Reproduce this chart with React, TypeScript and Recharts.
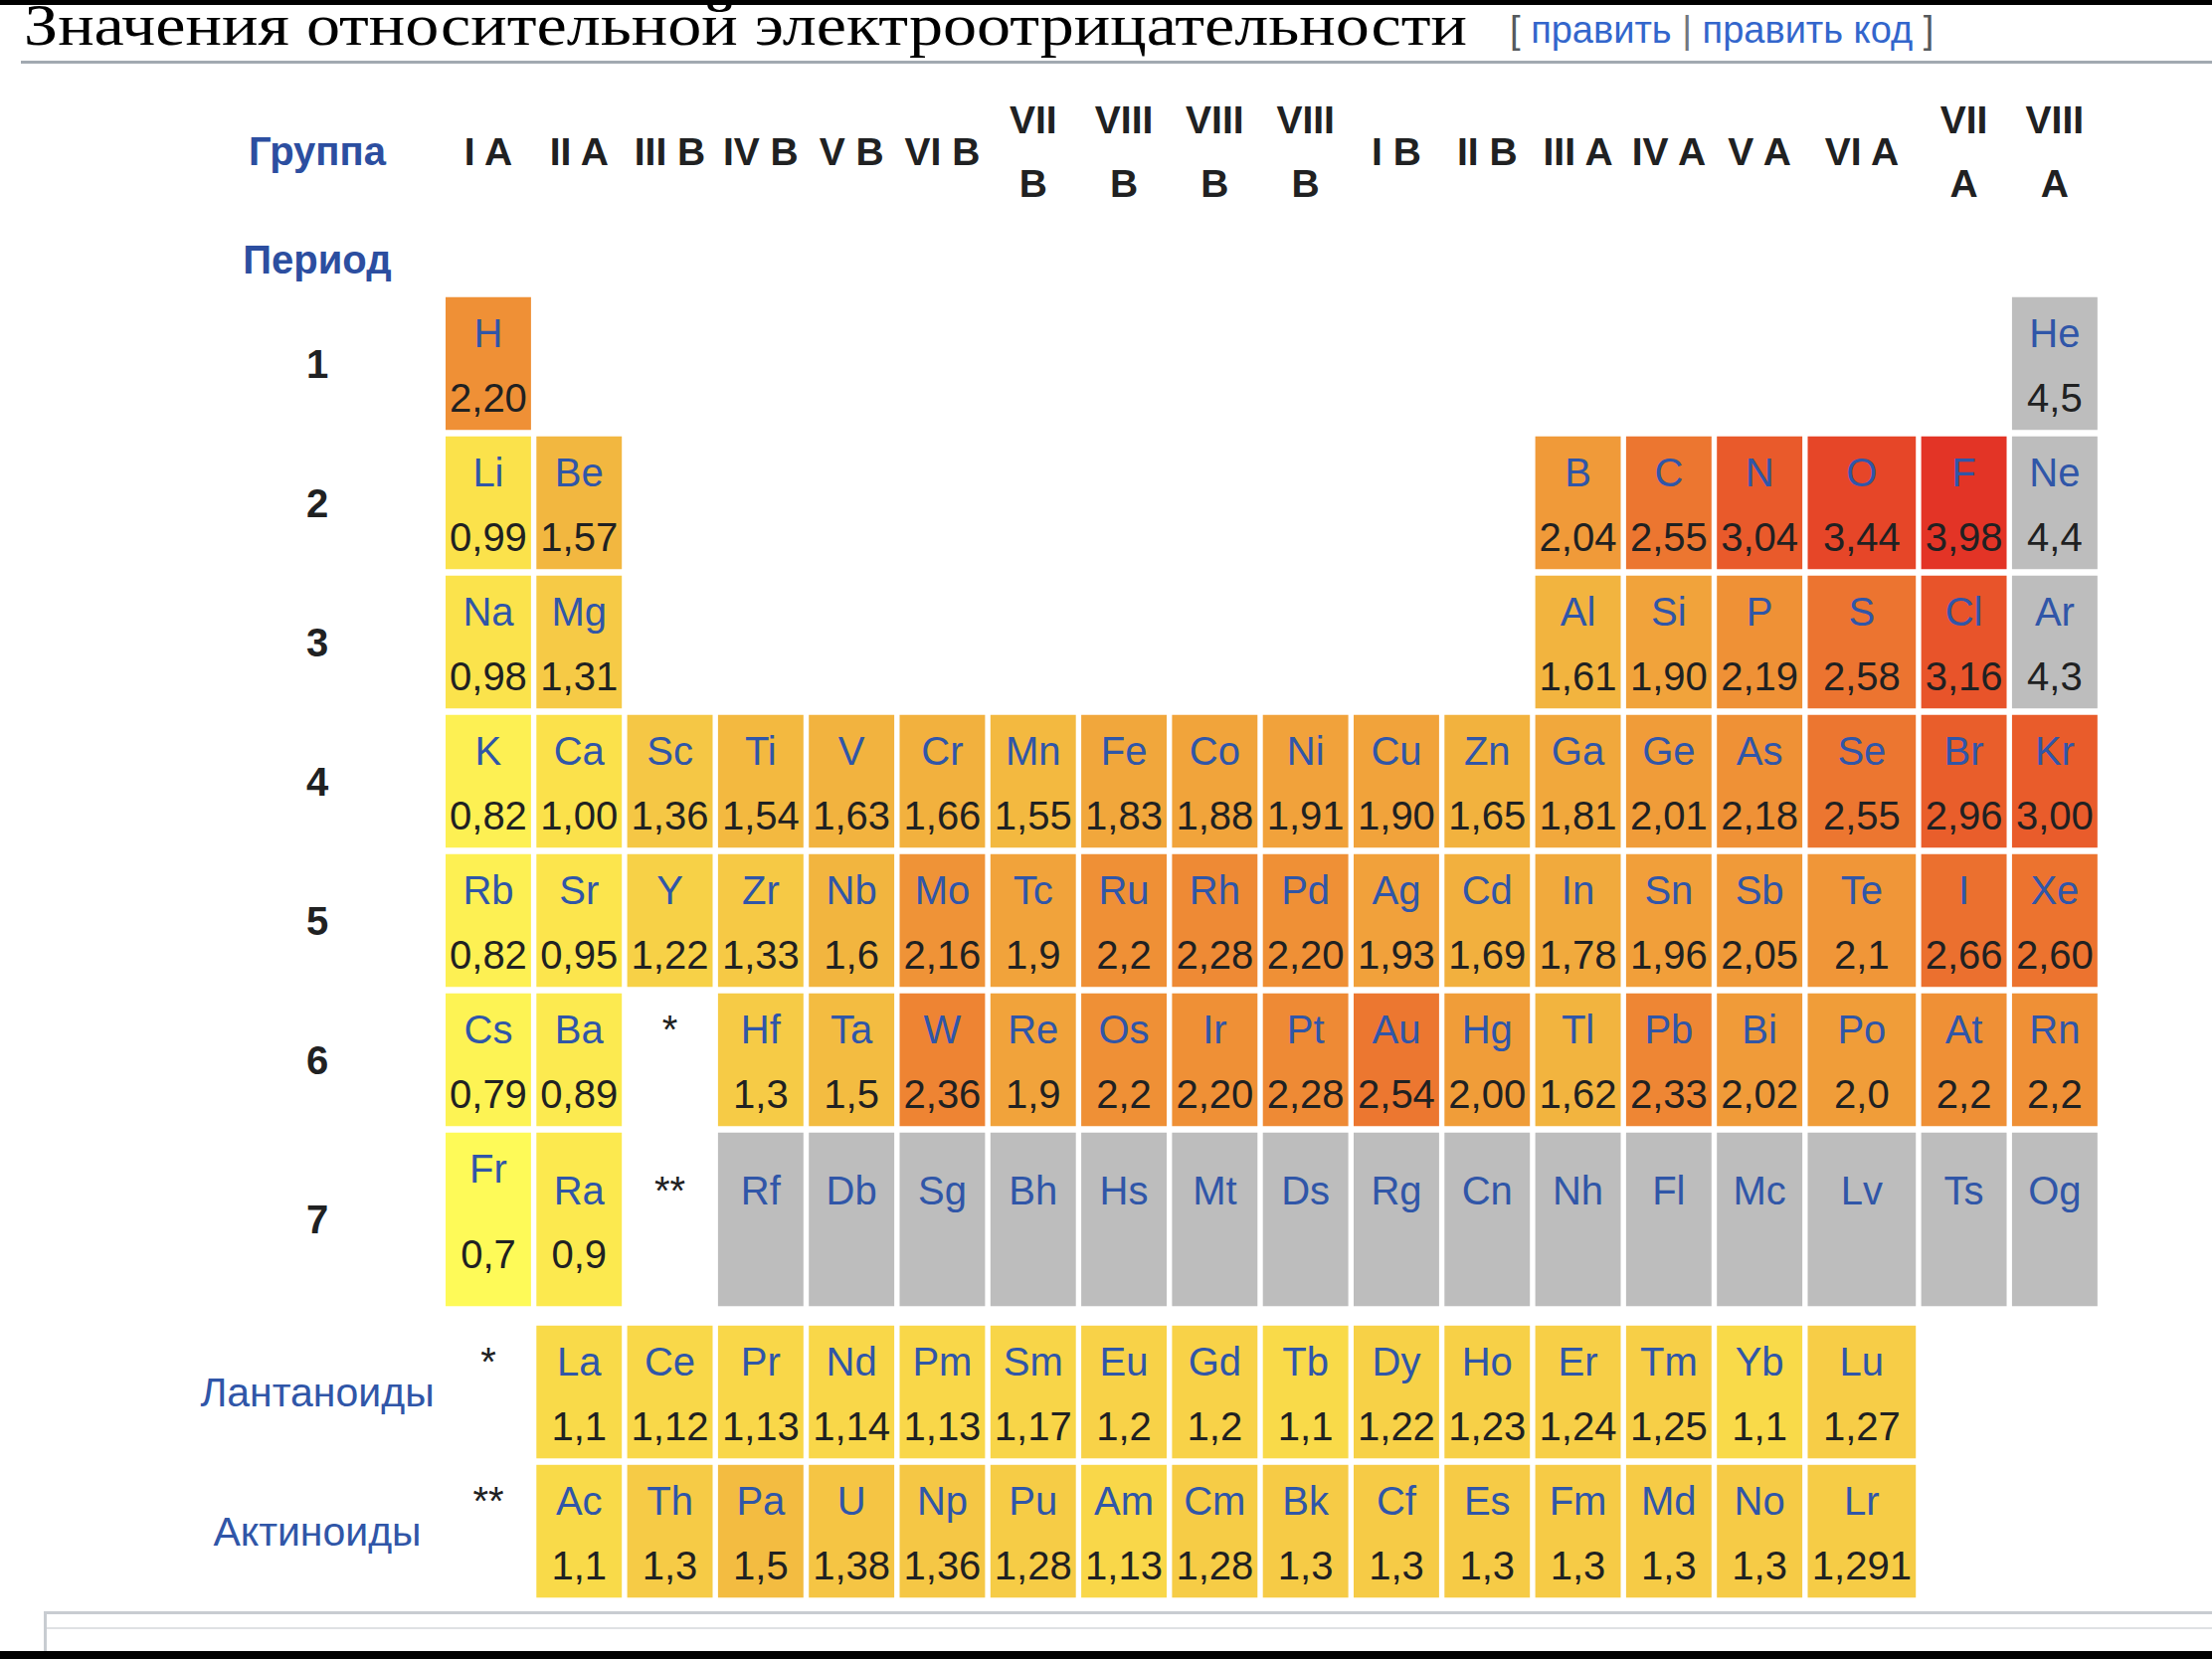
import React from 'react';
import { ScatterChart, Scatter, XAxis, YAxis } from 'recharts';

// group headers (columns) and period numbers (rows)
const groupLabels = ['I A', 'II A', 'III B', 'IV B', 'V B', 'VI B', 'VII B', 'VIII B', 'VIII B', 'VIII B', 'I B', 'II B', 'III A', 'IV A', 'V A', 'VI A', 'VII A', 'VIII A'];
const periodLabels = ['1', '2', '3', '4', '5', '6', '7'];

// main table, one entry per group; '' = empty, '*' / '**' = footnote marks
const mainSymbols = [
  ['H', '', '', '', '', '', '', '', '', '', '', '', '', '', '', '', '', 'He'],
  ['Li', 'Be', '', '', '', '', '', '', '', '', '', '', 'B', 'C', 'N', 'O', 'F', 'Ne'],
  ['Na', 'Mg', '', '', '', '', '', '', '', '', '', '', 'Al', 'Si', 'P', 'S', 'Cl', 'Ar'],
  ['K', 'Ca', 'Sc', 'Ti', 'V', 'Cr', 'Mn', 'Fe', 'Co', 'Ni', 'Cu', 'Zn', 'Ga', 'Ge', 'As', 'Se', 'Br', 'Kr'],
  ['Rb', 'Sr', 'Y', 'Zr', 'Nb', 'Mo', 'Tc', 'Ru', 'Rh', 'Pd', 'Ag', 'Cd', 'In', 'Sn', 'Sb', 'Te', 'I', 'Xe'],
  ['Cs', 'Ba', '*', 'Hf', 'Ta', 'W', 'Re', 'Os', 'Ir', 'Pt', 'Au', 'Hg', 'Tl', 'Pb', 'Bi', 'Po', 'At', 'Rn'],
  ['Fr', 'Ra', '**', 'Rf', 'Db', 'Sg', 'Bh', 'Hs', 'Mt', 'Ds', 'Rg', 'Cn', 'Nh', 'Fl', 'Mc', 'Lv', 'Ts', 'Og'],
];
const mainValues = [
  ['2,20', '', '', '', '', '', '', '', '', '', '', '', '', '', '', '', '', '4,5'],
  ['0,99', '1,57', '', '', '', '', '', '', '', '', '', '', '2,04', '2,55', '3,04', '3,44', '3,98', '4,4'],
  ['0,98', '1,31', '', '', '', '', '', '', '', '', '', '', '1,61', '1,90', '2,19', '2,58', '3,16', '4,3'],
  ['0,82', '1,00', '1,36', '1,54', '1,63', '1,66', '1,55', '1,83', '1,88', '1,91', '1,90', '1,65', '1,81', '2,01', '2,18', '2,55', '2,96', '3,00'],
  ['0,82', '0,95', '1,22', '1,33', '1,6', '2,16', '1,9', '2,2', '2,28', '2,20', '1,93', '1,69', '1,78', '1,96', '2,05', '2,1', '2,66', '2,60'],
  ['0,79', '0,89', '', '1,3', '1,5', '2,36', '1,9', '2,2', '2,20', '2,28', '2,54', '2,00', '1,62', '2,33', '2,02', '2,0', '2,2', '2,2'],
  ['0,7', '0,9', '', '', '', '', '', '', '', '', '', '', '', '', '', '', '', ''],
];

// f-block rows, starting at group II A
const lanthSymbols = ['La', 'Ce', 'Pr', 'Nd', 'Pm', 'Sm', 'Eu', 'Gd', 'Tb', 'Dy', 'Ho', 'Er', 'Tm', 'Yb', 'Lu'];
const lanthValues = ['1,1', '1,12', '1,13', '1,14', '1,13', '1,17', '1,2', '1,2', '1,1', '1,22', '1,23', '1,24', '1,25', '1,1', '1,27'];
const actSymbols = ['Ac', 'Th', 'Pa', 'U', 'Np', 'Pu', 'Am', 'Cm', 'Bk', 'Cf', 'Es', 'Fm', 'Md', 'No', 'Lr'];
const actValues = ['1,1', '1,3', '1,5', '1,38', '1,36', '1,28', '1,13', '1,28', '1,3', '1,3', '1,3', '1,3', '1,3', '1,3', '1,291'];
const seriesLabels = ['Лантаноиды', 'Актиноиды'];

// ---- layout (px per unit, and where unit 0.5 sits) ----
const W = 2224;
const H = 1668;
const X0 = 445.3;
const XS = 91.3;
const Y0 = 295.5;
const YS = 140;
const GX = 5.4;
const GY = 6.5;
const X_DOMAIN: [number, number] = [0.5 - X0 / XS, 0.5 + (W - X0) / XS];
const Y_DOMAIN: [number, number] = [0.5 - Y0 / YS, 0.5 + (H - Y0) / YS];

const ROW7_SPAN = 1.293;
const colSpan = (g: number) => (g === 16 ? 1.25 : 1);
const xUnit = (g: number) => (g <= 15 ? g : g === 16 ? 16.125 : g + 0.25);
const rowSpan = (r: number) => (r === 7 ? ROW7_SPAN : 1);
const yUnit = (r: number) => {
  if (r <= 6) return r;
  if (r === 7) return 6.5 + ROW7_SPAN / 2;
  return 6.5 + ROW7_SPAN + 0.093 + 0.5 + (r - 8);
};
const LABEL_X = 0.5 + (319 - X0) / XS;
const HEADER_Y = 0.5 + (152 - Y0) / YS;
const PERIOD_HEAD_Y = 0.5 + (261 - Y0) / YS;

const SANS = '"Liberation Sans", Arial, Helvetica, sans-serif';
const LINK = '#3056a8';
const TEXT = '#202122';

const stops: [number, number[]][] = [
  [0.7, [254, 250, 88]],
  [1.0, [251, 225, 75]],
  [1.3, [246, 203, 70]],
  [1.6, [242, 181, 63]],
  [1.9, [241, 163, 59]],
  [2.2, [239, 144, 54]],
  [2.55, [236, 118, 48]],
  [3.0, [233, 92, 43]],
  [3.44, [230, 70, 40]],
  [3.98, [227, 52, 38]],
];

function fillFor(value: string) {
  if (!value) return '#bdbdbd';
  const v = parseFloat(value.replace(',', '.'));
  if (v > 4.1) return '#bdbdbd';
  let i = 0;
  while (i < stops.length - 2 && v > stops[i + 1][0]) i++;
  const [a, ca] = stops[i];
  const [b, cb] = stops[i + 1];
  const t = Math.max(0, Math.min(1, (v - a) / (b - a)));
  const c = ca.map((k, j) => Math.round(k + (cb[j] - k) * t));
  return `rgb(${c[0]},${c[1]},${c[2]})`;
}

type Cell = { x: number; y: number; g: number; r: number; symbol: string; value: string };

const cells: Cell[] = [];
mainSymbols.forEach((row, ri) =>
  row.forEach((s, gi) => {
    if (s) cells.push({ x: xUnit(gi + 1), y: yUnit(ri + 1), g: gi + 1, r: ri + 1, symbol: s, value: mainValues[ri][gi] });
  })
);
[lanthSymbols, actSymbols].forEach((row, k) => {
  const vals = k === 0 ? lanthValues : actValues;
  cells.push({ x: xUnit(1), y: yUnit(8 + k), g: 1, r: 8 + k, symbol: k === 0 ? '*' : '**', value: '' });
  row.forEach((s, i) => cells.push({ x: xUnit(i + 2), y: yUnit(8 + k), g: i + 2, r: 8 + k, symbol: s, value: vals[i] }));
});

const headers = groupLabels.map((label, i) => ({ x: xUnit(i + 1), y: HEADER_Y, label, kind: 'group' }));
const sideLabels = [
  { x: LABEL_X, y: HEADER_Y, label: 'Группа', kind: 'blueBold' },
  { x: LABEL_X, y: PERIOD_HEAD_Y, label: 'Период', kind: 'blueBold' },
  ...periodLabels.map((label, i) => ({ x: LABEL_X, y: yUnit(i + 1), label, kind: 'period' })),
  ...seriesLabels.map((label, i) => ({ x: LABEL_X, y: yUnit(8 + i), label, kind: 'series' })),
];

function ElementCell(props: any) {
  const { cx, cy, payload } = props;
  if (cx == null || cy == null) return null;
  const p = payload as Cell;
  const w = colSpan(p.g) * XS - GX;
  const h = rowSpan(p.r) * YS - GY;
  const left = cx - w / 2;
  const top = cy - h / 2;
  const tall = p.r === 7;
  const symY = top + (tall && p.symbol !== 'Fr' ? 72 : 50);
  const valY = top + (tall ? 136 : 115);
  if (p.symbol === '*' || p.symbol === '**') {
    return (
      <text x={cx} y={symY} textAnchor="middle" fontFamily={SANS} fontSize={40} fill={TEXT}>
        {p.symbol}
      </text>
    );
  }
  return (
    <g>
      <rect x={left} y={top} width={w} height={h} fill={fillFor(p.value)} />
      <text x={cx} y={symY} textAnchor="middle" fontFamily={SANS} fontSize={40} fill={LINK}>
        {p.symbol}
      </text>
      {p.value && (
        <text x={cx} y={valY} textAnchor="middle" fontFamily={SANS} fontSize={40} fill={TEXT}>
          {p.value}
        </text>
      )}
    </g>
  );
}

function LabelShape(props: any) {
  const { cx, cy, payload } = props;
  if (cx == null || cy == null) return null;
  const { label, kind } = payload;
  if (kind === 'group') {
    const parts = label.split(' ');
    if (parts[0].startsWith('VII')) {
      return (
        <text textAnchor="middle" fontFamily={SANS} fontSize={39} fontWeight="bold" fill={TEXT}>
          <tspan x={cx} y={cy - 18}>{parts[0]}</tspan>
          <tspan x={cx} y={cy + 46}>{parts[1]}</tspan>
        </text>
      );
    }
    return (
      <text x={cx} y={cy + 14} textAnchor="middle" fontFamily={SANS} fontSize={39} fontWeight="bold" fill={TEXT}>
        {label}
      </text>
    );
  }
  if (kind === 'blueBold') {
    return (
      <text x={cx} y={cy + 14} textAnchor="middle" fontFamily={SANS} fontSize={40} fontWeight="bold" fill="#2c4ea0">
        {label}
      </text>
    );
  }
  if (kind === 'period') {
    return (
      <text x={cx} y={cy + 14} textAnchor="middle" fontFamily={SANS} fontSize={40} fontWeight="bold" fill={TEXT}>
        {label}
      </text>
    );
  }
  return (
    <text x={cx} y={cy + 14} textAnchor="middle" fontFamily={SANS} fontSize={41} fill={LINK}>
      {label}
    </text>
  );
}

function PageChrome() {
  return (
    <svg width={W} height={H} style={{ position: 'absolute', left: 0, top: 0, pointerEvents: 'none' }}>
      <rect x={0} y={0} width={W} height={5} fill="#000" />
      <text x={24} y={45} fontFamily='"Liberation Serif", "DejaVu Serif", serif' fontSize={60} fill="#000" textLength={1451} lengthAdjust="spacingAndGlyphs">
        Значения относительной электроотрицательности
      </text>
      <text y={43} fontFamily={SANS} fontSize={38}>
        <tspan x={1518} fill="#54595d">[ </tspan>
        <tspan fill="#3366cc">править</tspan>
        <tspan fill="#72777d"> | </tspan>
        <tspan fill="#3366cc">править код</tspan>
        <tspan fill="#54595d"> ]</tspan>
      </text>
      <rect x={21} y={61} width={W - 21} height={3} fill="#a2a9b1" />
      <rect x={44} y={1620} width={W - 44} height={3} fill="#c8ccd1" />
      <rect x={44} y={1620} width={3} height={40} fill="#c8ccd1" />
      <rect x={47} y={1636} width={W - 47} height={2} fill="#dfe1e4" />
      <rect x={0} y={1660} width={W} height={8} fill="#000" />
    </svg>
  );
}

export default function App() {
  return (
    <div style={{ position: 'absolute', left: 0, top: 0, width: W, height: H, background: '#fff' }}>
      <ScatterChart width={W} height={H} margin={{ top: 0, right: 0, bottom: 0, left: 0 }}>
        <XAxis type="number" dataKey="x" domain={X_DOMAIN} hide allowDataOverflow />
        <YAxis type="number" dataKey="y" domain={Y_DOMAIN} reversed hide allowDataOverflow />
        <Scatter data={cells} shape={ElementCell} isAnimationActive={false} />
        <Scatter data={headers} shape={LabelShape} isAnimationActive={false} />
        <Scatter data={sideLabels} shape={LabelShape} isAnimationActive={false} />
      </ScatterChart>
      <PageChrome />
    </div>
  );
}
